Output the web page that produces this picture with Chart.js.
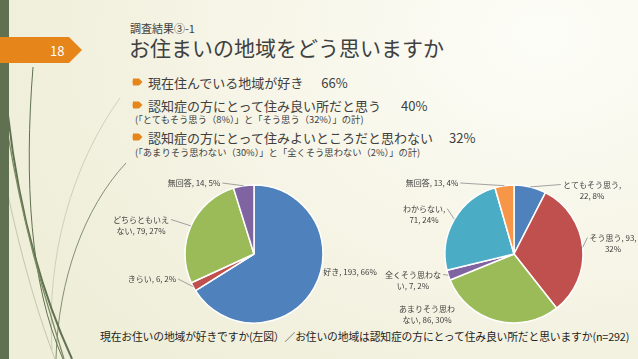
<!DOCTYPE html>
<html>
<head>
<meta charset="utf-8">
<script src="https://cdn.jsdelivr.net/npm/chart.js@4/dist/chart.umd.min.js"></script>
<style>
  html, body { margin:0; padding:0; }
  body { width:638px; height:359px; overflow:hidden; position:relative;
    font-family: "Noto Sans CJK JP", "Noto Sans", sans-serif; color:#404040;
    background: radial-gradient(ellipse 90% 120% at 85% 10%, #fdfdf8 0%, #f7f6e9 45%, #efeed9 100%); }
  .t { position:absolute; white-space:pre; line-height:1; }
  canvas { position:absolute; left:0; top:0; }
  svg { position:absolute; left:0; top:0; }
</style>
</head>
<body>
<svg width="638" height="359" viewBox="0 0 638 359">
  <path d="M120,98 C72,165 46,255 52,350" fill="none" stroke="#cfd0bb" stroke-width="1"/>
  <path d="M8,195 C24,268 40,320 55,359" fill="none" stroke="#c4c6ad" stroke-width="1"/>
  <path d="M126,163 C84,208 58,280 56,359" fill="none" stroke="#66765a" stroke-width="0.8"/>
  <path d="M33,67 C24,180 30,285 63,359" fill="none" stroke="#5f7150" stroke-width="1"/>
  <path d="M8,115 C20,222 46,302 72,359" fill="none" stroke="#5f7150" stroke-width="2"/>
  <path d="M8,135 C26,242 50,312 64,359" fill="none" stroke="#7b8b62" stroke-width="1.3"/>
  <rect x="0" y="0" width="9" height="359" fill="#5f7150"/>
  <path d="M0,37 L69,37 L82,50 L69,63 L0,63 Z" fill="#e5851a"/>
  <path d="M133,78.5 L139,78.5 L142.5,82 L139,85.5 L133,85.5 Q132,82 133,78.5 Z" fill="#e5851a"/>
  <path d="M133,101.5 L139,101.5 L142.5,105 L139,108.5 L133,108.5 Q132,105 133,101.5 Z" fill="#e5851a"/>
  <path d="M133,133.5 L139,133.5 L142.5,137 L139,140.5 L133,140.5 Q132,137 133,133.5 Z" fill="#e5851a"/>
</svg>
<div class="t" style="left:50px;top:43.5px;font-size:13px;color:#fff;">18</div>
<div class="t" style="left:130px;top:22.5px;font-size:11px;">調査結果③-1</div>
<div class="t" style="left:129px;top:36.5px;font-size:21px;">お住まいの地域をどう思いますか</div>
<div class="t" style="left:148px;top:75.5px;font-size:13px;">現在住んでいる地域が好き<span style="margin-left:18px">66%</span></div>
<div class="t" style="left:148px;top:98.5px;font-size:13px;">認知症の方にとって住み良い所だと思う<span style="margin-left:20px">40%</span></div>
<div class="t" style="left:135px;top:114.5px;font-size:9.3px;">(「とてもそう思う（8%）」と「そう思う（32%）」の計)</div>
<div class="t" style="left:148px;top:130.5px;font-size:13px;">認知症の方にとって住みよいところだと思わない<span style="margin-left:16px">32%</span></div>
<div class="t" style="left:135px;top:147.5px;font-size:9.3px;">(「あまりそう思わない（30%）」と「全くそう思わない（2%）」の計)</div>
<div class="t" style="left:100px;top:330.5px;font-size:10.8px;letter-spacing:-0.15px;color:#1e1e1e;">現在お住いの地域が好きですか(左図）／お住いの地域は認知症の方にとって住み良い所だと思いますか(n=292)</div>
<canvas id="c1" width="638" height="359"></canvas>
<canvas id="c2" width="638" height="359"></canvas>
<script>
// ---- data ----
const leftCategories = ['好き', 'きらい', 'どちらともいえない', '無回答'];
const leftValues = [193, 6, 79, 14];
const leftPercents = [66, 2, 27, 5];
const leftColors = ['#4f81bd', '#c0504d', '#9bbb59', '#8064a2'];

const rightCategories = ['とてもそう思う', 'そう思う', 'あまりそう思わない', '全くそう思わない', 'わからない', '無回答'];
const rightValues = [22, 93, 86, 7, 71, 13];
const rightPercents = [8, 32, 30, 2, 24, 4];
const rightColors = ['#4f81bd', '#c0504d', '#9bbb59', '#8064a2', '#4bacc6', '#f79646'];

// label layout (relative to pie centre): dx, dy, first-line break index, leader line
const leftLabelLayout = [
  {dx: 96, dy: 18, brk: 0, line: false},
  {dx: -102, dy: 25, brk: 0, line: true},
  {dx: -113, dy: -29, brk: 7, line: true},
  {dx: -60, dy: -71, brk: 0, line: true}
];
const rightLabelLayout = [
  {dx: 78, dy: -64, brk: 8, line: true},
  {dx: 99, dy: -11, brk: 10, line: true},
  {dx: -87, dy: 60, brk: 7, line: false},
  {dx: -101, dy: 26, brk: 7, line: true},
  {dx: -90, dy: -40, brk: 6, line: true},
  {dx: -82, dy: -71, brk: 0, line: true}
];

const sliceLabels = {
  id: 'sliceLabels',
  afterDatasetsDraw(chart, args, opts) {
    const ctx = chart.ctx;
    const meta = chart.getDatasetMeta(0);
    const ds = chart.data.datasets[0];
    const fs = 8, lh = 11;
    ctx.save();
    ctx.font = fs + 'px "Noto Sans CJK JP"';
    ctx.textAlign = 'center';
    ctx.textBaseline = 'middle';
    meta.data.forEach((arc, i) => {
      const p = arc.getProps(['x', 'y', 'startAngle', 'endAngle', 'outerRadius'], true);
      const mid = (p.startAngle + p.endAngle) / 2;
      const px = p.x + Math.cos(mid) * p.outerRadius;
      const py = p.y + Math.sin(mid) * p.outerRadius;
      const L = opts.layout[i];
      const full = chart.data.labels[i] + ', ' + ds.data[i] + ', ' + opts.percents[i] + '%';
      const lines = L.brk ? [full.slice(0, L.brk).trim(), full.slice(L.brk).trim()] : [full];
      const cx = p.x + L.dx, cy = p.y + L.dy;
      const top = cy - lh * lines.length / 2;
      ctx.fillStyle = '#404040';
      lines.forEach((t, k) => ctx.fillText(t, cx, top + lh * (k + 0.5)));
      if (L.line) {
        const w0 = ctx.measureText(lines[0]).width;
        const sy = top + lh * 0.5;
        const sx = px > cx ? cx + w0 / 2 + 2 : cx - w0 / 2 - 2;
        ctx.strokeStyle = '#8c8c8c';
        ctx.lineWidth = 0.8;
        ctx.beginPath();
        ctx.moveTo(sx, sy);
        ctx.lineTo(px, py);
        ctx.stroke();
      }
    });
    ctx.restore();
  }
};

function makePie(id, cats, vals, pcts, colors, layout, pad) {
  new Chart(document.getElementById(id), {
    type: 'pie',
    data: {
      labels: cats,
      datasets: [{ data: vals, backgroundColor: colors, borderColor: '#ffffff', borderWidth: 1.5, radius: 69 }]
    },
    options: {
      responsive: false,
      animation: false,
      devicePixelRatio: 1,
      layout: { padding: pad },
      plugins: {
        legend: { display: false },
        tooltip: { enabled: false },
        sliceLabels: { layout: layout, percents: pcts }
      }
    },
    plugins: [sliceLabels]
  });
}

makePie('c1', leftCategories, leftValues, leftPercents, leftColors, leftLabelLayout,
  {left: 184, right: 314, top: 184, bottom: 35});
makePie('c2', rightCategories, rightValues, rightPercents, rightColors, rightLabelLayout,
  {left: 444, right: 54, top: 184, bottom: 35});
</script>
</body>
</html>
